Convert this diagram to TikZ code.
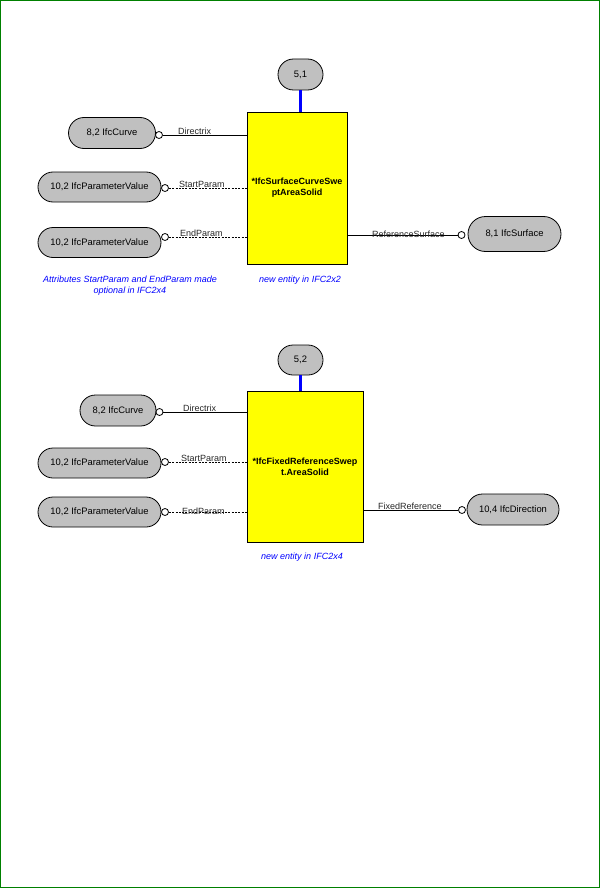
\documentclass[tikz,border=0pt]{standalone}
\usepackage{fontspec}
\setmainfont{Liberation Sans}
\usetikzlibrary{shapes.misc}
\definecolor{pillgray}{RGB}{192,192,192}
\definecolor{entyellow}{RGB}{255,255,0}
\definecolor{framegreen}{RGB}{0,128,0}
\definecolor{noteblue}{RGB}{0,0,255}
\begin{document}
\begin{tikzpicture}[x=1pt,y=-1pt,
  pill/.style={rounded rectangle, draw=black, line width=0.8pt, fill=pillgray, inner sep=0pt,
    font=\fontsize{9.4}{10}\selectfont},
  entity/.style={draw=black, line width=0.8pt, fill=entyellow, inner sep=1pt, align=center,
    font=\fontsize{9}{11}\selectfont\bfseries},
  ocirc/.style={circle, draw=black, line width=0.8pt, fill=white, minimum size=7pt, inner sep=0pt},
  lbl/.style={inner sep=0pt, font=\fontsize{9}{10}\selectfont, text=black!85},
  note/.style={inner sep=0pt, align=center, text=noteblue, font=\fontsize{9}{11}\selectfont\itshape},
  conn/.style={draw=black, line width=0.8pt},
  optconn/.style={draw=black, line width=0.8pt, dash pattern=on 2pt off 1.3pt},
  supconn/.style={draw=noteblue, line width=2.5pt}
]
\useasboundingbox (0,0) rectangle (600,888);
\draw[framegreen, line width=1pt] (0.5,0.5) rectangle (599.5,887.5);

% ---------- top diagram ----------
\node[entity, minimum width=100pt, minimum height=152pt] (e1) at (297,188)
  {*IfcSurfaceCurveSwe\\ptAreaSolid};
\node[pill, minimum width=45pt, minimum height=31pt] (p51) at (300.5,74.5) {5,1};
\node[pill, minimum width=87pt, minimum height=31pt] (curve1) at (112,133) {8,2 IfcCurve};
\node[pill, minimum width=123pt, minimum height=30pt] (pv1) at (99.5,187) {10,2 IfcParameterValue};
\node[pill, minimum width=123pt, minimum height=30pt] (pv2) at (99.5,242.5) {10,2 IfcParameterValue};
\node[pill, minimum width=93pt, minimum height=35pt] (surf) at (514.5,234) {8,1 IfcSurface};

\node[ocirc] (oc1) at (159,135) {};
\node[ocirc] (oc2) at (165,188) {};
\node[ocirc] (oc3) at (165,237) {};
\node[ocirc] (oc4) at (461.5,235) {};

\draw[supconn] (p51.south) -- (e1.north -| p51.south);
\draw[conn] (oc1.east) -- (e1.west |- oc1.center);
\draw[optconn] (oc2.east) -- (e1.west |- oc2.center);
\draw[optconn] (oc3.east) -- (e1.west |- oc3.center);
\draw[conn] (e1.east |- oc4.center) -- (oc4.west);

\node[lbl, anchor=base west] (l1) at (178,134.5) {Directrix};
\node[lbl, anchor=base west] (l2) at (179,187.5) {StartParam};
\node[lbl, anchor=base west] (l3) at (180,236.5) {EndParam};
\node[lbl, anchor=base west] (l4) at (372,237.5) {ReferenceSurface};

\node[note] (n1) at (130,285.5) {Attributes StartParam and EndParam made\\optional in IFC2x4};
\node[note] (n2) at (300,280.5) {new entity in IFC2x2};

% ---------- bottom diagram ----------
\node[entity, minimum width=116pt, minimum height=151pt] (e2) at (305,466.5)
  {*IfcFixedReferenceSwep\\t.AreaSolid};
\node[pill, minimum width=45pt, minimum height=30pt] (p52) at (300.5,360) {5,2};
\node[pill, minimum width=76pt, minimum height=31pt] (curve2) at (118,410.5) {8,2 IfcCurve};
\node[pill, minimum width=123pt, minimum height=30pt] (pv3) at (99.5,463) {10,2 IfcParameterValue};
\node[pill, minimum width=123pt, minimum height=30pt] (pv4) at (99.5,512) {10,2 IfcParameterValue};
\node[pill, minimum width=92pt, minimum height=31pt] (dir) at (513,509.5) {10,4 IfcDirection};

\node[ocirc] (oc5) at (159.5,412) {};
\node[ocirc] (oc6) at (165,462) {};
\node[ocirc] (oc7) at (165,512) {};
\node[ocirc] (oc8) at (462,510) {};

\draw[supconn] (p52.south) -- (e2.north -| p52.south);
\draw[conn] (oc5.east) -- (e2.west |- oc5.center);
\draw[optconn] (oc6.east) -- (e2.west |- oc6.center);
\draw[optconn] (oc7.east) -- (e2.west |- oc7.center);
\draw[conn] (e2.east |- oc8.center) -- (oc8.west);

\node[lbl, anchor=base west] (l5) at (183,411.5) {Directrix};
\node[lbl, anchor=base west] (l6) at (181,461) {StartParam};
\node[lbl, anchor=base west] (l7) at (182,514.5) {EndParam};
\node[lbl, anchor=base west] (l8) at (378,509.5) {FixedReference};

\node[note] (n3) at (302,557) {new entity in IFC2x4};
\end{tikzpicture}
\end{document}
